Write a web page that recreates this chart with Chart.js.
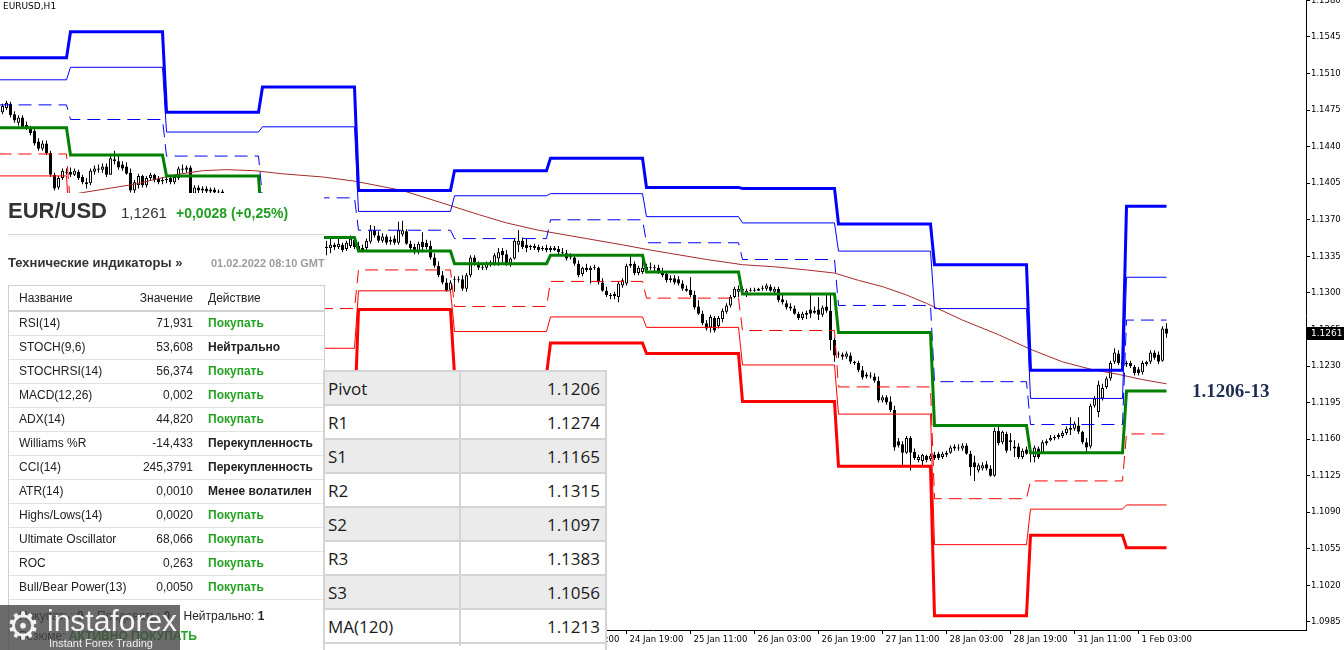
<!DOCTYPE html>
<html>
<head>
<meta charset="utf-8">
<title>EURUSD,H1</title>
<script src="https://cdn.jsdelivr.net/npm/chart.js@4.4.1/dist/chart.umd.min.js"></script>
<style>
  body{margin:0;width:1344px;height:650px;overflow:hidden;background:#fff;position:relative;font-family:"Liberation Sans",Arial,sans-serif;}
  #c{position:absolute;left:0;top:0;}
  .abs{position:absolute;white-space:nowrap;}
</style>
</head>
<body>
<canvas id="c" width="1344" height="650"></canvas>
<script>
// H1 candles, bar 0 = 14 Jan 07:00 ... bar 291 = 1 Feb 10:00
const opens = [1.1473,1.1477,1.1481,1.1471,1.1463,1.1468,1.1461,1.1458,1.1455,1.1445,1.1438,1.1443,1.1434,1.1413,1.1401,1.1410,1.1416,1.1416,1.1413,1.1416,1.1411,1.1406,1.1405,1.1416,1.1419,1.1418,1.1421,1.1413,1.1428,1.1426,1.1423,1.1421,1.1415,1.1398,1.1403,1.1412,1.1403,1.1410,1.1413,1.1409,1.1407,1.1408,1.1410,1.1406,1.1410,1.1419,1.1418,1.1420,1.1395,1.1401,1.1398,1.1400,1.1397,1.1399,1.1396,1.1397,1.1389,1.1374,1.1350,1.1329,1.1307,1.1317,1.1324,1.1320,1.1325,1.1324,1.1329,1.1336,1.1341,1.1346,1.1350,1.1354,1.1358,1.1352,1.1346,1.1350,1.1345,1.1341,1.1344,1.1347,1.1345,1.1344,1.1343,1.1346,1.1344,1.1346,1.1342,1.1345,1.1351,1.1345,1.1341,1.1343,1.1349,1.1360,1.1355,1.1350,1.1354,1.1349,1.1352,1.1348,1.1356,1.1359,1.1347,1.1344,1.1339,1.1349,1.1348,1.1345,1.1334,1.1326,1.1317,1.1310,1.1303,1.1312,1.1313,1.1313,1.1304,1.1317,1.1334,1.1328,1.1324,1.1324,1.1327,1.1328,1.1333,1.1340,1.1337,1.1328,1.1333,1.1346,1.1350,1.1346,1.1344,1.1345,1.1344,1.1342,1.1343,1.1341,1.1343,1.1342,1.1339,1.1338,1.1334,1.1334,1.1328,1.1318,1.1324,1.1322,1.1324,1.1324,1.1310,1.1302,1.1298,1.1297,1.1296,1.1307,1.1309,1.1326,1.1328,1.1319,1.1320,1.1322,1.1325,1.1324,1.1324,1.1320,1.1318,1.1312,1.1314,1.1313,1.1309,1.1304,1.1303,1.1298,1.1287,1.1280,1.1271,1.1267,1.1276,1.1268,1.1275,1.1282,1.1288,1.1296,1.1301,1.1304,1.1298,1.1302,1.1303,1.1302,1.1304,1.1304,1.1306,1.1301,1.1304,1.1294,1.1290,1.1287,1.1285,1.1280,1.1276,1.1279,1.1284,1.1281,1.1284,1.1279,1.1287,1.1283,1.1255,1.1241,1.1241,1.1239,1.1240,1.1234,1.1233,1.1226,1.1220,1.1221,1.1220,1.1216,1.1197,1.1200,1.1196,1.1188,1.1158,1.1155,1.1147,1.1161,1.1148,1.1140,1.1139,1.1144,1.1141,1.1145,1.1146,1.1143,1.1145,1.1147,1.1151,1.1152,1.1151,1.1154,1.1146,1.1138,1.1130,1.1132,1.1136,1.1132,1.1125,1.1168,1.1157,1.1165,1.1157,1.1153,1.1153,1.1143,1.1150,1.1147,1.1143,1.1151,1.1147,1.1156,1.1159,1.1161,1.1162,1.1163,1.1166,1.1169,1.1170,1.1173,1.1167,1.1157,1.1153,1.1192,1.1186,1.1199,1.1210,1.1218,1.1234,1.1242,1.1234,1.1232,1.1233,1.1229,1.1227,1.1224,1.1232,1.1234,1.1243,1.1241,1.1235,1.1266];
const highs = [1.1481,1.1484,1.1483,1.1474,1.1470,1.1470,1.1464,1.1460,1.1458,1.1448,1.1446,1.1446,1.1436,1.1415,1.1412,1.1419,1.1419,1.1420,1.1419,1.1418,1.1413,1.1410,1.1419,1.1422,1.1423,1.1424,1.1424,1.1431,1.1436,1.1432,1.1426,1.1425,1.1419,1.1408,1.1414,1.1413,1.1412,1.1415,1.1414,1.1412,1.1411,1.1412,1.1413,1.1413,1.1421,1.1423,1.1422,1.1422,1.1403,1.1403,1.1402,1.1402,1.1401,1.1401,1.1399,1.1399,1.1391,1.1377,1.1352,1.1333,1.1322,1.1329,1.1327,1.1329,1.1328,1.1331,1.1339,1.1345,1.1348,1.1354,1.1358,1.1363,1.1360,1.1355,1.1353,1.1352,1.1347,1.1346,1.1350,1.1350,1.1348,1.1350,1.1353,1.1348,1.1353,1.1348,1.1350,1.1355,1.1353,1.1349,1.1346,1.1352,1.1365,1.1364,1.1359,1.1357,1.1356,1.1354,1.1355,1.1368,1.1369,1.1361,1.1350,1.1347,1.1349,1.1358,1.1351,1.1350,1.1338,1.1330,1.1321,1.1314,1.1312,1.1316,1.1316,1.1317,1.1319,1.1336,1.1336,1.1330,1.1327,1.1330,1.1331,1.1338,1.1343,1.1343,1.1341,1.1334,1.1352,1.1360,1.1353,1.1352,1.1346,1.1347,1.1346,1.1345,1.1346,1.1345,1.1345,1.1345,1.1343,1.1341,1.1338,1.1336,1.1331,1.1325,1.1328,1.1326,1.1327,1.1325,1.1314,1.1306,1.1300,1.1301,1.1311,1.1314,1.1328,1.1336,1.1330,1.1326,1.1333,1.1328,1.1329,1.1327,1.1327,1.1324,1.1320,1.1317,1.1317,1.1316,1.1312,1.1307,1.1315,1.1302,1.1293,1.1283,1.1274,1.1279,1.1278,1.1278,1.1285,1.1290,1.1298,1.1306,1.1307,1.1306,1.1304,1.1305,1.1305,1.1305,1.1307,1.1309,1.1308,1.1306,1.1306,1.1298,1.1293,1.1290,1.1288,1.1282,1.1282,1.1283,1.1298,1.1287,1.1296,1.1288,1.1298,1.1300,1.1257,1.1244,1.1243,1.1244,1.1243,1.1235,1.1235,1.1230,1.1224,1.1224,1.1223,1.1220,1.1202,1.1202,1.1201,1.1192,1.1161,1.1158,1.1163,1.1163,1.1151,1.1145,1.1146,1.1145,1.1146,1.1148,1.1148,1.1148,1.1149,1.1154,1.1155,1.1155,1.1156,1.1156,1.1149,1.1144,1.1137,1.1138,1.1139,1.1135,1.1171,1.1173,1.1168,1.1167,1.1166,1.1159,1.1156,1.1151,1.1153,1.1151,1.1154,1.1153,1.1159,1.1160,1.1164,1.1164,1.1166,1.1168,1.1172,1.1181,1.1177,1.1181,1.1168,1.1161,1.1194,1.1201,1.1216,1.1213,1.1220,1.1235,1.1247,1.1245,1.1245,1.1235,1.1235,1.1231,1.1229,1.1235,1.1235,1.1245,1.1245,1.1244,1.1268,1.1271];
const lows = [1.1471,1.1475,1.1468,1.1463,1.1460,1.1457,1.1456,1.1451,1.1441,1.1436,1.1436,1.1432,1.1411,1.1398,1.1399,1.1408,1.1413,1.1411,1.1412,1.1408,1.1404,1.1400,1.1403,1.1413,1.1415,1.1415,1.1411,1.1413,1.1423,1.1418,1.1417,1.1413,1.1396,1.1395,1.1400,1.1401,1.1401,1.1408,1.1406,1.1404,1.1404,1.1405,1.1404,1.1404,1.1408,1.1415,1.1415,1.1392,1.1393,1.1395,1.1395,1.1394,1.1393,1.1392,1.1391,1.1386,1.1371,1.1346,1.1324,1.1301,1.1302,1.1312,1.1316,1.1317,1.1321,1.1322,1.1327,1.1333,1.1338,1.1343,1.1347,1.1350,1.1348,1.1343,1.1342,1.1341,1.1337,1.1338,1.1341,1.1341,1.1339,1.1336,1.1338,1.1341,1.1342,1.1339,1.1340,1.1343,1.1342,1.1339,1.1339,1.1341,1.1347,1.1353,1.1348,1.1348,1.1346,1.1346,1.1346,1.1346,1.1354,1.1346,1.1341,1.1337,1.1337,1.1339,1.1342,1.1332,1.1324,1.1315,1.1308,1.1301,1.1302,1.1301,1.1310,1.1302,1.1301,1.1315,1.1326,1.1322,1.1322,1.1322,1.1325,1.1326,1.1326,1.1329,1.1326,1.1325,1.1332,1.1339,1.1342,1.1339,1.1341,1.1341,1.1339,1.1340,1.1339,1.1339,1.1340,1.1337,1.1336,1.1331,1.1332,1.1326,1.1315,1.1316,1.1320,1.1309,1.1322,1.1308,1.1301,1.1296,1.1294,1.1294,1.1291,1.1305,1.1307,1.1324,1.1317,1.1317,1.1318,1.1320,1.1322,1.1320,1.1318,1.1315,1.1310,1.1310,1.1308,1.1307,1.1302,1.1301,1.1296,1.1284,1.1279,1.1269,1.1264,1.1262,1.1262,1.1266,1.1272,1.1280,1.1286,1.1295,1.1296,1.1301,1.1296,1.1301,1.1301,1.1302,1.1302,1.1302,1.1301,1.1299,1.1291,1.1289,1.1284,1.1283,1.1279,1.1274,1.1274,1.1275,1.1276,1.1280,1.1274,1.1277,1.1281,1.1245,1.1234,1.1238,1.1236,1.1237,1.1232,1.1231,1.1224,1.1217,1.1218,1.1218,1.1214,1.1195,1.1195,1.1193,1.1186,1.1149,1.1152,1.1135,1.1146,1.1130,1.1140,1.1138,1.1135,1.1138,1.1139,1.1140,1.1140,1.1141,1.1143,1.1146,1.1149,1.1149,1.1149,1.1145,1.1125,1.1120,1.1128,1.1130,1.1130,1.1124,1.1124,1.1154,1.1155,1.1147,1.1149,1.1143,1.1141,1.1141,1.1145,1.1138,1.1138,1.1141,1.1146,1.1154,1.1158,1.1159,1.1160,1.1161,1.1164,1.1164,1.1168,1.1165,1.1155,1.1146,1.1151,1.1190,1.1181,1.1197,1.1208,1.1216,1.1232,1.1231,1.1229,1.1229,1.1228,1.1221,1.1221,1.1222,1.1230,1.1232,1.1236,1.1232,1.1234,1.1257];
const closes = [1.1479,1.1482,1.1470,1.1465,1.1468,1.1458,1.1458,1.1453,1.1443,1.1438,1.1443,1.1434,1.1413,1.1400,1.1410,1.1417,1.1415,1.1413,1.1417,1.1410,1.1406,1.1404,1.1417,1.1419,1.1418,1.1421,1.1413,1.1429,1.1426,1.1420,1.1419,1.1414,1.1398,1.1406,1.1412,1.1403,1.1410,1.1413,1.1408,1.1406,1.1408,1.1409,1.1406,1.1411,1.1419,1.1418,1.1420,1.1395,1.1401,1.1398,1.1400,1.1397,1.1399,1.1396,1.1397,1.1389,1.1374,1.1350,1.1329,1.1307,1.1317,1.1324,1.1320,1.1325,1.1324,1.1329,1.1336,1.1341,1.1346,1.1350,1.1354,1.1358,1.1352,1.1346,1.1350,1.1345,1.1341,1.1344,1.1347,1.1345,1.1343,1.1343,1.1346,1.1344,1.1347,1.1341,1.1348,1.1352,1.1344,1.1341,1.1343,1.1350,1.1360,1.1355,1.1350,1.1354,1.1348,1.1351,1.1348,1.1360,1.1360,1.1347,1.1343,1.1339,1.1347,1.1344,1.1344,1.1334,1.1326,1.1317,1.1310,1.1302,1.1310,1.1313,1.1312,1.1304,1.1317,1.1334,1.1329,1.1324,1.1325,1.1328,1.1329,1.1336,1.1339,1.1336,1.1328,1.1333,1.1350,1.1350,1.1344,1.1343,1.1345,1.1343,1.1341,1.1343,1.1341,1.1343,1.1341,1.1339,1.1338,1.1333,1.1335,1.1328,1.1317,1.1324,1.1322,1.1324,1.1325,1.1310,1.1302,1.1298,1.1297,1.1299,1.1309,1.1312,1.1326,1.1328,1.1319,1.1324,1.1324,1.1325,1.1324,1.1325,1.1320,1.1317,1.1312,1.1314,1.1310,1.1309,1.1304,1.1302,1.1298,1.1286,1.1280,1.1271,1.1266,1.1277,1.1264,1.1276,1.1283,1.1288,1.1296,1.1304,1.1304,1.1302,1.1302,1.1303,1.1302,1.1304,1.1305,1.1307,1.1302,1.1304,1.1293,1.1291,1.1286,1.1285,1.1280,1.1276,1.1280,1.1281,1.1280,1.1283,1.1279,1.1286,1.1283,1.1255,1.1240,1.1242,1.1239,1.1242,1.1234,1.1233,1.1226,1.1219,1.1222,1.1220,1.1216,1.1197,1.1200,1.1195,1.1188,1.1152,1.1154,1.1147,1.1161,1.1147,1.1142,1.1143,1.1145,1.1140,1.1144,1.1142,1.1142,1.1146,1.1147,1.1152,1.1153,1.1151,1.1154,1.1146,1.1133,1.1133,1.1135,1.1135,1.1132,1.1125,1.1168,1.1156,1.1167,1.1149,1.1159,1.1151,1.1143,1.1149,1.1146,1.1149,1.1152,1.1143,1.1157,1.1158,1.1161,1.1162,1.1164,1.1166,1.1170,1.1171,1.1175,1.1167,1.1157,1.1152,1.1192,1.1199,1.1212,1.1209,1.1218,1.1233,1.1243,1.1233,1.1231,1.1233,1.1230,1.1223,1.1223,1.1233,1.1234,1.1243,1.1238,1.1234,1.1266,1.1261];

// daily pivot levels: 14 Jan (partial), 17..21 Jan, 24..28 Jan, 31 Jan, 1 Feb
const dayStart = [-1, 17, 41, 65, 89, 113, 137, 161, 185, 209, 233, 257, 281];
const lastBar = 291;
const r3 = [1.1525,1.1550,1.1473,1.1497,1.1398,1.1417,1.1429,1.1401,1.1400,1.1366,1.1327,1.1226,1.1383];
const r2 = [1.1504,1.1516,1.1454,1.1459,1.1378,1.1393,1.1395,1.1373,1.1367,1.1340,1.1285,1.1199,1.1315];
const r1 = [1.1480,1.1466,1.1431,1.1391,1.1360,1.1352,1.1370,1.1348,1.1332,1.1288,1.1215,1.1174,1.1274];
const pv = [1.1458,1.1432,1.1412,1.1353,1.1340,1.1328,1.1336,1.1320,1.1299,1.1262,1.1173,1.1147,1.1206];
const s1 = [1.1433,1.1382,1.1389,1.1285,1.1322,1.1287,1.1311,1.1295,1.1264,1.1210,1.1103,1.1120,1.1165];
const s2 = [1.1412,1.1348,1.1370,1.1247,1.1302,1.1263,1.1277,1.1267,1.1231,1.1184,1.1059,1.1093,1.1097];
const s3 = [1.1388,1.1298,1.1347,1.1179,1.1284,1.1222,1.1252,1.1242,1.1196,1.1134,1.0991,1.1068,1.1056];

// MA(120) read at some bars
const maBars = [0,20,33,43,50,56,63,70,80,88,100,110,119,126,134,146,155,162,176,185,193,201,208,214,220,226,231,240,249,257,265,272,279,285,291];
const maValues = [1.1382,1.1396,1.1404,1.1413,1.1417,1.1418,1.1417,1.1414,1.1411,1.1407,1.1398,1.1386,1.1375,1.1367,1.1360,1.1352,1.1346,1.1341,1.1332,1.1327,1.1325,1.1322,1.1319,1.1312,1.1306,1.1298,1.1290,1.1274,1.1260,1.1246,1.1234,1.1227,1.1222,1.1217,1.1213];

const xTickBars = [12,28,44,60,76,92,108,124,140,156,172,188,204,220,236,252,268,284];
const xTickLabels = ["14 Jan 19:00","17 Jan 11:00","18 Jan 03:00","18 Jan 19:00","19 Jan 11:00","20 Jan 03:00","20 Jan 19:00","21 Jan 11:00","24 Jan 03:00","24 Jan 19:00","25 Jan 11:00","26 Jan 03:00","26 Jan 19:00","27 Jan 11:00","28 Jan 03:00","28 Jan 19:00","31 Jan 11:00","1 Feb 03:00"];
const yTicks = [1.0985,1.1020,1.1055,1.1090,1.1125,1.1160,1.1195,1.1230,1.1265,1.1300,1.1335,1.1370,1.1405,1.1440,1.1475,1.1510,1.1545,1.1580];

// side tables
const indNames = ["RSI(14)","STOCH(9,6)","STOCHRSI(14)","MACD(12,26)","ADX(14)","Williams %R","CCI(14)","ATR(14)","Highs/Lows(14)","Ultimate Oscillator","ROC","Bull/Bear Power(13)"];
const indValues = ["71,931","53,608","56,374","0,002","44,820","-14,433","245,3791","0,0010","0,0020","68,066","0,263","0,0050"];
const indActions = ["Покупать","Нейтрально","Покупать","Покупать","Покупать","Перекупленность","Перекупленность","Менее волатилен","Покупать","Покупать","Покупать","Покупать"];
const pivotNames = ["Pivot","R1","S1","R2","S2","R3","S3","MA(120)"];
const pivotValues = ["1.1206","1.1274","1.1165","1.1315","1.1097","1.1383","1.1056","1.1213"];

const X_MIN = -0.625, X_MAX = 325.875;
const Y_MIN = 1.09773, Y_MAX = 1.15804;

const bars = opens.map((_, i) => i);

function levelPoints(vals){
    const pts = [];
    vals.forEach((v, d) => {
        const end = d < dayStart.length - 1 ? dayStart[d+1] - 1 : lastBar;
        pts.push({x: dayStart[d], y: v}, {x: end, y: v});
    });
    return pts;
}

function levelSet(label, vals, color, width, dash, order){
    return {
        type: "line", label: label, data: levelPoints(vals),
        borderColor: color, borderWidth: width, borderDash: dash,
        pointRadius: 0, fill: false, tension: 0, order: order
    };
}

const lastPriceTag = {
    id: "lastPriceTag",
    afterDraw(chart){
        const ys = chart.scales.y;
        const last = closes[closes.length-1];
        const y = Math.round(ys.getPixelForValue(last));
        const c = chart.ctx;
        c.save();
        c.fillStyle = "#000";
        c.fillRect(ys.left, y - 7, chart.width - ys.left, 13);
        c.fillStyle = "#fff";
        c.font = '9px "DejaVu Sans"';
        c.textBaseline = "middle";
        c.fillText(last.toFixed(4), ys.left + 5, y - 0.5);
        c.restore();
    }
};

new Chart(document.getElementById("c"), {
    type: "bar",
    data: {
        datasets: [
            levelSet("R3", r3, "#0000ff", 3, [], 3),
            levelSet("R2", r2, "#0000ff", 1, [], 4),
            levelSet("R1", r1, "#0000ff", 1, [13,7], 5),
            levelSet("Pivot", pv, "#008000", 3, [], 2),
            levelSet("S1", s1, "#ff0000", 1, [13,7], 5),
            levelSet("S2", s2, "#ff0000", 1, [], 4),
            levelSet("S3", s3, "#ff0000", 3, [], 3),
            {
                type: "line", label: "MA(120)",
                data: maBars.map((b, k) => ({x: b, y: maValues[k]})),
                borderColor: "#a52a2a", borderWidth: 1, pointRadius: 0, tension: 0, fill: false, order: 6
            },
            {
                label: "body",
                data: bars.map(i => ({x: i, y: [opens[i], closes[i]]})),
                backgroundColor: bars.map(i => closes[i] > opens[i] ? "#ffffff" : "#000000"),
                borderColor: "#000", borderWidth: 1, borderSkipped: false,
                barThickness: 3, grouped: false, inflateAmount: 0, order: 20
            },
            {
                label: "wick",
                data: bars.map(i => ({x: i, y: [lows[i], highs[i]]})),
                backgroundColor: "#000", borderWidth: 0,
                barThickness: 1, grouped: false, inflateAmount: 0, order: 21
            }
        ]
    },
    options: {
        responsive: false,
        maintainAspectRatio: false,
        devicePixelRatio: 1,
        animation: false,
        layout: {padding: 0},
        plugins: {legend: {display: false}, tooltip: {enabled: false}},
        scales: {
            x: {
                type: "linear", min: X_MIN, max: X_MAX, offset: false,
                grid: {display: true, offset: false, drawOnChartArea: false, drawTicks: true, tickLength: 4, color: "#000"},
                border: {display: true, color: "#000"},
                ticks: {
                    autoSkip: false, maxRotation: 0, align: "start", labelOffset: 3, padding: 1,
                    color: "#000", font: {family: "DejaVu Sans", size: 8.5},
                    callback: v => { const k = xTickBars.indexOf(v); return k < 0 ? "" : xTickLabels[k]; }
                },
                afterBuildTicks: s => { s.ticks = xTickBars.map(v => ({value: v})); },
                afterFit: s => { s.height = 20; s.paddingLeft = 0; s.paddingRight = 0; }
            },
            y: {
                position: "right", min: Y_MIN, max: Y_MAX,
                grid: {display: true, drawOnChartArea: false, drawTicks: true, tickLength: 4, color: "#000"},
                border: {display: true, color: "#000"},
                ticks: {
                    autoSkip: false, padding: 1, color: "#000",
                    font: {family: "DejaVu Sans", size: 8.5},
                    callback: v => v.toFixed(4)
                },
                afterBuildTicks: s => { s.ticks = yTicks.map(v => ({value: v})); },
                afterFit: s => { s.width = 38; s.paddingTop = 0; s.paddingBottom = 0; }
            }
        }
    },
    plugins: [lastPriceTag]
});

/* overlays */
function box(css){
    const d = document.createElement("div");
    d.className = "abs";
    d.style.cssText += css;
    document.body.appendChild(d);
    return d;
}
function txt(s, css){
    const d = box(css);
    d.textContent = s;
    return d;
}

txt("EURUSD,H1", "left:3px;top:1px;font:9px/11px 'DejaVu Sans';color:#000;");

// quote panel
box("left:0;top:193px;width:324px;height:457px;background:#fff;");
txt("EUR/USD", "left:8px;top:200px;font:bold 22px/22px 'Liberation Sans';color:#333;");
txt("1,1261", "left:121px;top:205px;font:15px/15px 'Liberation Sans';color:#333;");
txt("+0,0028 (+0,25%)", "left:176px;top:206px;font:bold 14px/14px 'Liberation Sans';color:#1f9e1f;");
box("left:8px;top:234px;width:317px;height:1px;background:#d6d6d6;box-shadow:0 2px 3px rgba(0,0,0,0.12);");
txt("Технические индикаторы »", "left:8px;top:256px;font:bold 13px/13px 'Liberation Sans';color:#333;");
txt("01.02.2022 08:10 GMT", "left:211px;top:258px;font:bold 11px/11px 'Liberation Sans';color:#9c9c9c;");

box("left:8px;top:285px;width:315px;height:400px;border:1px solid #cfcfcf;");
txt("Название", "left:19px;top:286px;font:12px/24px 'Liberation Sans';color:#222;");
txt("Значение", "left:0;width:193px;text-align:right;top:286px;font:12px/24px 'Liberation Sans';color:#222;");
txt("Действие", "left:208px;top:286px;font:12px/24px 'Liberation Sans';color:#222;");
box("left:9px;top:310px;width:315px;height:2px;background:#d2d2d2;");
indNames.forEach((n, k) => {
    const top = 311 + 24*k;
    txt(n, "left:19px;top:" + top + "px;font:12px/24px 'Liberation Sans';color:#222;");
    txt(indValues[k], "left:0;width:193px;text-align:right;top:" + top + "px;font:12px/24px 'Liberation Sans';color:#222;");
    const buy = indActions[k] === "Покупать";
    txt(indActions[k], "left:208px;top:" + top + "px;font:bold 12px/24px 'Liberation Sans';color:" + (buy ? "#22a322" : "#222") + ";");
    box("left:9px;top:" + (top + 24) + "px;width:315px;height:1px;background:#e2e2e2;");
});
const sum = box("left:19px;top:608px;font:12px/16px 'Liberation Sans';color:#222;");
sum.innerHTML = "Покупать: <b>9</b>&nbsp;&nbsp;&nbsp; Продавать: <b>0</b>&nbsp;&nbsp;&nbsp; Нейтрально: <b>1</b>";
const res = box("left:19px;top:628px;font:12px/16px 'Liberation Sans';color:#222;");
res.innerHTML = "Резюме: <b style='color:#22a322'>АКТИВНО ПОКУПАТЬ</b>";

// watermark
box("left:0;top:605px;width:180px;height:45px;background:rgba(70,70,70,0.8);");
txt("⚙", "left:6px;top:604px;font:38px/44px 'DejaVu Sans';color:#f2f2f2;");
txt("instaforex", "left:47px;top:604px;font:30px/34px 'Liberation Sans';color:#f4f4f4;");
txt("Instant Forex Trading", "left:49px;top:637px;font:11px/12px 'Liberation Sans';color:#eee;");

// pivot table
box("left:323px;top:370px;width:284px;height:280px;background:#fff;");
box("left:323px;top:370px;width:2px;height:280px;background:#d4d4d4;");
box("left:605px;top:370px;width:2px;height:280px;background:#d4d4d4;");
box("left:325px;top:370px;width:280px;height:2px;background:#d4d4d4;");
box("left:459px;top:370px;width:2px;height:276px;background:#d4d4d4;");
pivotNames.forEach((n, k) => {
    const top = 372 + 34*k;
    if (k % 2 === 0) {
        box("left:325px;top:" + top + "px;width:134px;height:32px;background:#ebebeb;");
        box("left:461px;top:" + top + "px;width:144px;height:32px;background:#ebebeb;");
    }
    txt(n, "left:328px;top:" + top + "px;font:17px/34px 'Open Sans';color:#1a1a1a;");
    txt(pivotValues[k], "left:461px;width:139px;text-align:right;top:" + top + "px;font:17px/34px 'Open Sans';color:#1a1a1a;");
    box("left:325px;top:" + (top + 32) + "px;width:280px;height:2px;background:#d4d4d4;");
});

txt("1.1206-13", "left:1192px;top:381px;font:bold 19px/20px 'Liberation Serif';color:#1c2b52;");
</script>
</body>
</html>
